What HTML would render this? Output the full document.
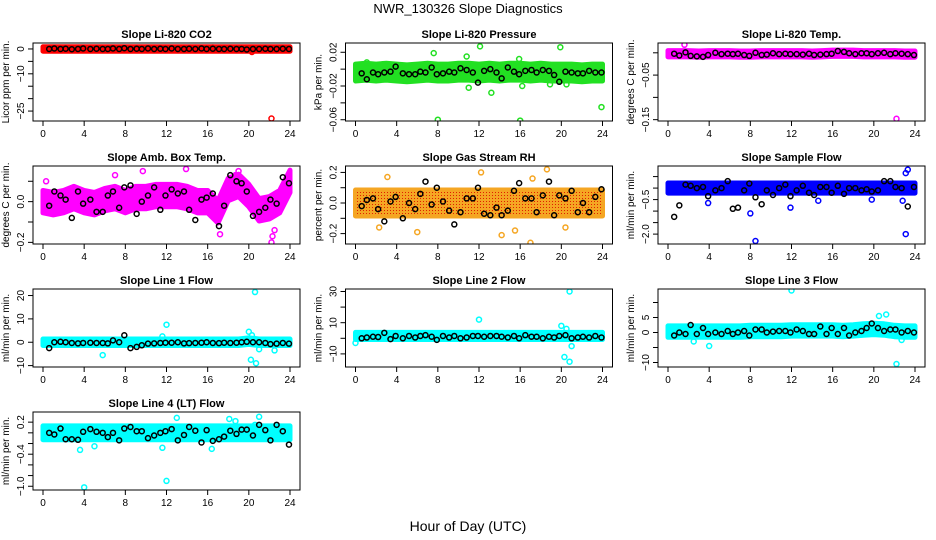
<!DOCTYPE html>
<html><head><meta charset="utf-8"><style>
html,body{margin:0;padding:0;background:#fff}
svg{display:block;font-family:"Liberation Sans",sans-serif}
</style></head><body>
<svg id="c" width="936" height="540" viewBox="0 0 936 540">
<rect width="936" height="540" fill="#fff"/>
<text x="468" y="13" font-size="13" text-anchor="middle">NWR_130326  Slope Diagnostics</text>
<text x="468" y="531" font-size="14" text-anchor="middle">Hour of Day (UTC)</text>
</svg>
<script>
const H=[0.6,1.1,1.7,2.2,2.8,3.4,3.9,4.6,5.2,5.8,6.3,6.8,7.4,7.9,8.5,9.1,9.6,10.2,10.8,11.4,11.9,12.5,13.1,13.7,14.2,14.8,15.4,15.9,16.5,17.1,17.6,18.2,18.8,19.3,19.8,20.4,21.0,21.6,22.1,22.7,23.3,23.9];
const bandHours=[0,1,2,3,4,5,6,7,8,9,10,11,12,13,14,15,16,17,18,19,20,21,22,23,24];
const xTicks=[0,4,8,12,16,20,24];

const co2Black=[0,0.2,0,0.1,-0.1,0,0.2,0,0.1,0,0,0.2,0,0.3,0,0.1,0,0.2,0,0.1,0,0.2,0,0,0.1,0,0.2,0,0.1,0,0,0.1,0,0,-0.2,0,0,0.1,0,0,0.1,0];
const co2BandC=[0,0,0,0,0,0,0,0,0,0,0,0,0,0,0,0,0,0,0,0,0,0,0,0,0];
const co2OutX=[22.2,20.3,16.5];const co2OutY=[-28,-1.2,0.6];

const presBlack=[-0.005,-0.012,-0.004,-0.006,-0.004,-0.003,0.003,-0.005,-0.006,-0.006,-0.003,-0.004,0.002,-0.006,-0.005,-0.003,-0.004,0.001,-0.001,-0.004,-0.016,-0.002,0,-0.004,-0.011,0.002,-0.003,-0.006,-0.002,-0.001,-0.004,-0.001,-0.002,-0.007,-0.015,-0.003,-0.004,-0.005,-0.005,-0.002,-0.004,-0.004];
const presBandC=[-0.004,-0.003,-0.004,-0.003,-0.004,-0.005,-0.004,-0.003,-0.004,-0.004,-0.003,-0.003,-0.004,-0.003,-0.004,-0.003,-0.003,-0.004,-0.003,-0.004,-0.004,-0.004,-0.005,-0.004,-0.004];
const presOutX=[8,16,23.9,12.1,19.9,7.6,10.8,13.2,16.2,11,1.1,18.9,20.5,15.9];
const presOutY=[-0.06,-0.061,-0.045,0.027,0.026,0.019,0.015,-0.028,-0.02,-0.022,0.008,-0.018,-0.018,0.012];

const tempBlack=[-0.002,-0.006,0.001,-0.007,-0.008,-0.009,-0.005,0,-0.003,-0.002,-0.003,-0.002,-0.005,-0.007,0,-0.005,-0.004,-0.001,-0.003,-0.002,-0.003,-0.003,-0.004,-0.002,-0.005,-0.004,-0.003,-0.002,0.004,0.002,-0.001,-0.003,-0.001,-0.001,-0.003,-0.001,0,-0.003,-0.001,-0.002,-0.003,-0.005];
const tempBandC=[-0.002,-0.002,-0.002,-0.003,-0.002,-0.002,-0.002,-0.003,-0.003,-0.002,-0.002,-0.002,-0.002,-0.002,-0.003,-0.002,-0.001,-0.001,-0.001,-0.002,-0.002,-0.002,-0.002,-0.003,-0.003];
const tempOutX=[22.2,1.6];const tempOutY=[-0.148,0.018];

const ambBlack=[-0.02,0.05,0.03,0.01,-0.08,0.05,-0.01,0.01,-0.05,-0.05,0.03,0.05,-0.03,0.07,0.08,-0.06,0,0.03,0.07,-0.04,0.03,0.06,0.04,0.05,-0.04,-0.09,0.01,0.02,0.04,-0.12,-0.02,0.13,0.1,0.09,0.05,-0.07,-0.05,-0.03,0.01,-0.01,0.12,0.09];
const ambBandC=[0,-0.01,0,0.02,0,-0.01,0.01,0.02,0,0.02,0.02,0.03,0.03,0.03,0.02,0,0,-0.05,0.06,0.08,0.03,-0.04,-0.03,0,0.1];
const ambOutX=[22.2,22.3,23.9,19,9.7,7,17.2,18.7,13.9,0.3,22.5];
const ambOutY=[-0.2,-0.17,0.19,0.15,0.15,0.13,-0.16,0.13,0.16,0.1,-0.14];

const rhBlack=[-0.02,0.02,0.03,-0.04,-0.12,0.01,0.04,-0.1,0,-0.04,0.06,0.14,-0.01,0.1,0.01,-0.05,-0.14,-0.06,0.03,0.03,0.1,-0.07,-0.08,-0.03,-0.08,-0.05,0.08,0.13,0.03,0.03,-0.06,0.05,0.14,-0.08,0.05,0.03,0.08,-0.06,0,-0.06,0.04,0.09];
const rhBandC=[0,0,0,0,0,0,0,0,0,0,0,0,0,0,0,0,0,0,0,0,0,0,0,0,0];
const rhOutX=[18.6,12.2,17,14.2,6,20.4,3.1,17.2,15.5,2.3];
const rhOutY=[0.22,0.2,-0.26,-0.21,-0.19,-0.16,0.17,0.16,-0.18,-0.16];

const sfBlack=[-1.25,-0.75,0.15,0.1,0,0.05,-0.35,-0.1,0,0.3,-0.9,-0.85,-0.1,0.2,-0.4,-0.7,-0.1,-0.3,0,0.15,-0.35,-0.1,0.1,-0.2,-0.3,0.05,0.05,-0.2,0.1,-0.25,0,0,-0.1,-0.05,-0.15,-0.1,0.3,0.3,0.05,0,-0.8,0.05];
const sfBandC=[0,0,0,0,0,0,0,0,0,0,0,0,0,0,0,0,0,0,0,0,0,0,0,0,0];
const sfOutX=[23.1,23.1,23.3,3.9,11.9,8.5,8,14.6,19.8,22.8,0.2];
const sfOutY=[-2.0,0.65,0.8,-0.65,-0.85,-2.3,-1.1,-0.55,-0.5,-0.55,0.1];

const l1Black=[-2.5,0,0.2,0,-0.3,-0.5,-0.3,-0.2,-0.3,-0.3,-0.5,0.8,0,3,-2.5,-2,-1.3,-0.6,-0.5,-0.3,-0.2,-0.2,0,-0.5,-0.4,-0.3,-0.2,0,-0.3,-0.4,-0.2,-0.3,-0.2,0,0.2,0,0,-0.3,-0.8,-0.6,-0.3,-0.6];
const l1BandC=[0,0,0,0,0,0,0,0,0,0,0,0,0,0,0,0,0,0,0,0,0.5,0,0,0,0];
const l1OutX=[20.6,20.2,20.7,12,5.8,20,22.5,21,20.3,11.6];
const l1OutY=[21.5,-7.5,-9,7.5,-5.5,4.5,-3.5,-3,3,2.5];

const l2Black=[0,0.5,1,0.8,3.5,-0.5,1.5,0,1.5,0.5,1.5,2,1,-1,1.5,0.5,1.5,0,0.5,1.5,1.5,1,1.5,1.5,1,0.5,1.5,0,2,1,1,0,1,0.5,1.5,2,0,0.5,1,0.5,1.5,0.5];
const l2BandC=[1.5,1.5,1.5,1.5,1.5,1.5,1.5,1.5,1.5,1.5,1.5,1.5,1.5,1.5,1.5,1.5,1.5,1.5,1.5,1.5,1.5,1.5,1.5,1.5,1.5];
const l2OutX=[20.8,12,20,20.3,20.8,21,0,20.5];
const l2OutY=[30,12,8,-12,-15,-5,-3,6];

const l3Black=[-1,0,-0.5,2.5,-0.5,1.5,-0.5,0,-0.5,0.5,-0.5,0,0.5,-1,1,1,0,0.3,0.5,0.5,0,1,0.5,-0.5,-0.5,2,-0.5,1.5,-0.5,1.5,-1,0,0.5,1.5,3,1.5,0.5,1,1,0,0.5,0];
const l3BandC=[0.3,0.3,0.3,0.3,0.3,0.3,0.3,0.3,0.5,0.5,0.5,0.5,0.7,0.7,0.7,0.7,0.7,0.5,0.7,1,1.2,1,0.5,0.3,0.3];
const l3OutX=[12,22.2,4,2.5,20.5,21.2,22.7];
const l3OutY=[14,-10.5,-4.5,-3,5.5,6,-2.5];

const l4Black=[0,-0.03,0.08,-0.12,-0.12,-0.13,0.02,0.07,0.02,0,-0.08,0,-0.14,0.08,0.11,0.03,0.03,-0.1,-0.05,0,0.03,0.07,-0.14,-0.04,0.11,0.04,-0.18,0.05,-0.15,-0.12,-0.07,0.04,-0.02,0.06,0.06,-0.05,0.15,0.05,-0.14,0.15,0.03,-0.22];
const l4BandC=[0,0,0,0,0,0,0,0,0,0,0,0,0,0,0,0,0,0,0,0,0,0,0,0,0];
const l4OutX=[4,12,3.6,21,13,18.1,18.7,5,16.4,11.6,20.6];
const l4OutY=[-1.02,-0.9,-0.32,0.3,0.28,0.26,0.22,-0.25,-0.3,-0.28,0.15];

const panels=[
 {name:'co2',col:0,row:0,title:'Slope Li-820 CO2',yl:'Licor ppm per min.',ymin:-29,ymax:2.4,ticks:[0,-5,-10,-15,-20,-25],labs:['0','','\u221210','','','\u221225'],color:'#ff0000',hw:0.9,black:co2Black,bc:co2BandC,ox:co2OutX,oy:co2OutY},
 {name:'pressure',col:1,row:0,title:'Slope Li-820 Pressure',yl:'kPa per min.',ymin:-0.0615,ymax:0.031,ticks:[0.02,0,-0.02,-0.04,-0.06],labs:['0.02','','\u22120.02','','\u22120.06'],color:'#22e022',hw:0.01,black:presBlack,bc:presBandC,ox:presOutX,oy:presOutY},
 {name:'temp',col:2,row:0,title:'Slope Li-820 Temp.',yl:'degrees C per min.',ymin:-0.153,ymax:0.022,ticks:[0,-0.05,-0.1,-0.15],labs:['','\u22120.05','','\u22120.15'],color:'#ff00ff',hw:0.007,black:tempBlack,bc:tempBandC,ox:tempOutX,oy:tempOutY},
 {name:'amb-temp',col:0,row:1,title:'Slope Amb. Box Temp.',yl:'degrees C per min.',ymin:-0.208,ymax:0.175,ticks:[0.1,0,-0.1,-0.2],labs:['','0.0','','\u22120.2'],color:'#ff00ff',hw:0.055,black:ambBlack,bc:ambBandC,ox:ambOutX,oy:ambOutY},
 {name:'rh',col:1,row:1,title:'Slope Gas Stream RH',yl:'percent per min.',ymin:-0.268,ymax:0.242,ticks:[0.2,0.1,0,-0.1,-0.2],labs:['0.2','','0.0','','\u22120.2'],color:'#f5a623',hw:0.085,black:rhBlack,bc:rhBandC,ox:rhOutX,oy:rhOutY},
 {name:'sample-flow',col:2,row:1,title:'Slope Sample Flow',yl:'ml/min per min.',ymin:-2.43,ymax:0.96,ticks:[0.5,0,-0.5,-1,-1.5,-2],labs:['','','\u22120.5','','','\u22122.0'],color:'#0000ff',hw:0.22,black:sfBlack,bc:sfBandC,ox:sfOutX,oy:sfOutY},
 {name:'line1',col:0,row:2,title:'Slope Line 1 Flow',yl:'ml/min per min.',ymin:-10.6,ymax:22.8,ticks:[20,10,0,-10],labs:['20','10','0','\u221210'],color:'#00ffff',hw:1.4,black:l1Black,bc:l1BandC,ox:l1OutX,oy:l1OutY},
 {name:'line2',col:1,row:2,title:'Slope Line 2 Flow',yl:'ml/min per min.',ymin:-18.4,ymax:31.6,ticks:[30,20,10,0,-10],labs:['30','','10','','\u221210'],color:'#00ffff',hw:2.3,black:l2Black,bc:l2BandC,ox:l2OutX,oy:l2OutY},
 {name:'line3',col:2,row:2,title:'Slope Line 3 Flow',yl:'ml/min per min.',ymin:-11.5,ymax:14.5,ticks:[10,5,0,-5,-10],labs:['','5','0','','\u221210'],color:'#00ffff',hw:1.9,black:l3Black,bc:l3BandC,ox:l3OutX,oy:l3OutY},
 {name:'line4',col:0,row:3,title:'Slope Line 4 (LT) Flow',yl:'ml/min per min.',ymin:-1.07,ymax:0.39,ticks:[0.2,0,-0.2,-0.4,-0.6,-0.8,-1.0],labs:['0.2','','','\u22120.4','','','\u22121.0'],color:'#00ffff',hw:0.13,black:l4Black,bc:l4BandC,ox:l4OutX,oy:l4OutY}
];
const svg=document.getElementById('c');
const NS='http://www.w3.org/2000/svg';
function mk(tag,attrs,parent){const e=document.createElementNS(NS,tag);for(const k in attrs)e.setAttribute(k,attrs[k]);parent.appendChild(e);return e;}
panels.forEach(p=>{
 const x0=43+p.col*312.5, x24=x0+247;
 const top=43+p.row*123, bot=top+78;
 const left=x0-10, right=x24+10;
 const X=v=>x0+(x24-x0)*v/24;
 const Y=v=>bot-(v-p.ymin)/(p.ymax-p.ymin)*(bot-top);
 const g=mk('g',{},svg);
 
 
 const clip=mk('clipPath',{id:'cl'+p.name},g);
 mk('rect',{x:left,y:top,width:right-left,height:bot-top},clip);
 const pg=mk('g',{'clip-path':'url(#cl'+p.name+')'},g);
 let pts=[];
 bandHours.forEach((h,i)=>pts.push(X(h)+','+Y(p.bc[i]+p.hw)));
 for(let i=bandHours.length-1;i>=0;i--)pts.push(X(bandHours[i])+','+Y(p.bc[i]-p.hw));
 const band=mk('polygon',{points:pts.join(' '),fill:p.color,stroke:p.color,'stroke-width':5,'stroke-linejoin':'round'},pg);
 
 
 if(p.name==='rh'){
  const pat=mk('pattern',{id:'rhp',width:3,height:3,patternUnits:'userSpaceOnUse'},g);
  mk('rect',{x:0,y:0,width:1,height:1,fill:'#e02000'},pat);
  mk('polygon',{points:pts.join(' '),fill:'url(#rhp)'},pg);
 }
 p.ox.forEach((h,i)=>{
  const c=mk('circle',{cx:X(h),cy:Y(p.oy[i]),r:2.5,fill:'none',stroke:p.color,'stroke-width':1.5},pg);
  
  
 });
 H.forEach((h,i)=>{
  const c=mk('circle',{cx:X(h),cy:Y(p.black[i]),r:2.5,fill:'none',stroke:'#000','stroke-width':1.5},pg);
  
  
 });
 const box=mk('rect',{x:left,y:top,width:right-left,height:bot-top,fill:'none',stroke:'#000','stroke-width':1},g);
 
 
 const t=mk('text',{x:(left+right)/2,y:top-5,'font-size':11,'font-weight':'bold','text-anchor':'middle'},g);
 t.textContent=p.title;
 
 
 mk('line',{x1:X(0),x2:X(24),y1:bot,y2:bot,stroke:'#000'},g);
 xTicks.forEach(v=>{
  mk('line',{x1:X(v),x2:X(v),y1:bot,y2:bot+5,stroke:'#000'},g);
  const l=mk('text',{x:X(v),y:bot+16,'font-size':10,'text-anchor':'middle'},g);
  l.textContent=v;
  
  
 });
 mk('line',{x1:left,x2:left,y1:Y(p.ticks[0]),y2:Y(p.ticks[p.ticks.length-1]),stroke:'#000'},g);
 p.ticks.forEach((v,i)=>{
  const y=Y(v);
  mk('line',{x1:left-5,x2:left,y1:y,y2:y,stroke:'#000'},g);
  if(p.labs[i]){
   const l=mk('text',{x:left-9,y:y,'font-size':10,'text-anchor':'middle',transform:'rotate(-90 '+(left-9)+' '+y+')'},g);
   l.textContent=p.labs[i];
   
   
  }
 });
 const yt=mk('text',{x:left-24,y:(top+bot)/2,'font-size':10,'text-anchor':'middle',transform:'rotate(-90 '+(left-24)+' '+((top+bot)/2)+')'},g);
 yt.textContent=p.yl;
 
 
});
</script>
</body></html>
